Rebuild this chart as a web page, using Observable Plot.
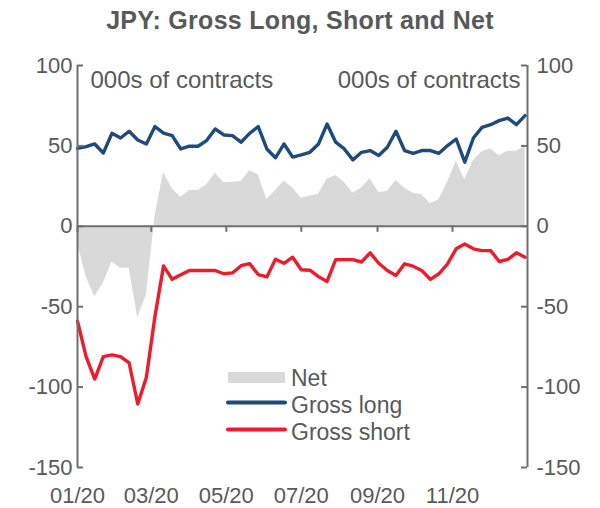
<!DOCTYPE html>
<html><head><meta charset="utf-8">
<script src="https://cdn.jsdelivr.net/npm/d3@7"></script>
<script src="https://cdn.jsdelivr.net/npm/@observablehq/plot@0.6"></script>
<style>
body{margin:0;background:#fff;font-family:"Liberation Sans",Arial,sans-serif;}
#title{width:600px;height:40px;line-height:40px;text-align:center;font-weight:bold;font-size:25px;letter-spacing:0.3px;color:#595959;}
#chart svg{display:block;}
</style></head><body>
<div id="title"></div>
<div id="chart"></div>
<script>
const chartTitle = "JPY: Gross Long, Short and Net";
const unitLabel = "000s of contracts";
const seriesNames = ["Net", "Gross long", "Gross short"];
const firstWeek = "2020-01-01";
const grossLong = [48.5,49.6,51.2,45.6,57.8,54.9,59.1,53.7,51.2,62.0,58.0,56.4,48.1,49.8,49.8,53.3,60.5,56.8,56.4,52.3,57.8,62.0,48.1,42.6,51.2,43.0,44.4,46.0,51.2,63.6,52.3,48.1,41.3,46.0,47.1,44.0,49.2,59.1,47.1,45.4,47.1,47.1,45.4,50.2,54.3,39.9,54.9,61.5,63.2,65.7,67.3,63.2,68.8];
const grossShort = [-59.0,-81.0,-95.0,-81.0,-80.0,-81.0,-85.0,-110.5,-94.0,-56.0,-24.6,-33.0,-30.2,-27.5,-27.5,-27.5,-27.5,-29.5,-29.0,-24.5,-23.2,-30.0,-31.5,-20.5,-23.0,-19.2,-27.0,-27.3,-31.3,-34.3,-20.7,-20.7,-20.7,-22.2,-16.5,-23.0,-27.5,-30.6,-23.3,-24.8,-27.5,-33.0,-29.5,-23.3,-14.0,-11.0,-14.0,-15.1,-15.1,-21.9,-20.6,-16.5,-19.2];
const netPosition = [-10.5,-31.4,-43.8,-35.4,-22.2,-26.1,-25.9,-56.8,-42.8,6.0,33.4,23.4,17.9,22.3,22.3,25.8,33.0,27.3,27.4,27.8,34.6,32.0,16.6,22.1,28.2,23.8,17.4,18.7,19.9,29.3,31.6,27.4,20.6,23.8,29.5,21.0,21.7,28.5,23.8,20.6,19.6,14.1,16.5,27.5,40.3,28.9,40.9,46.4,48.1,43.8,46.7,46.7,49.6];
const yTicks = [-150, -100, -50, 0, 50, 100];
const xTickDates = ["2020-01-01","2020-03-01","2020-05-01","2020-07-01","2020-09-01","2020-11-01"];
const xTickLabels = ["01/20","03/20","05/20","07/20","09/20","11/20"];
const xDomainDates = ["2020-01-01","2021-01-01"];

const colors = {net: "#D9D9D9", long: "#1F4A7C", short: "#EC1C2C", axis: "#6F6F6F", text: "#595959"};

document.getElementById("title").textContent = chartTitle;

const start = new Date(firstWeek);
const data = grossLong.map((v, i) => ({
  date: d3.utcDay.offset(start, 7 * i),
  long: v, short: grossShort[i], net: netPosition[i]
}));
const tickDates = xTickDates.map(s => new Date(s));
const labelOf = new Map(tickDates.map((d, i) => [+d, xTickLabels[i]]));
const xDomain = xDomainDates.map(s => new Date(s));
const yFormat = d => String(d);

const svgTop = 40;
const chart = Plot.plot({
  width: 600, height: 468,
  marginTop: 25, marginBottom: 41, marginLeft: 77, marginRight: 73,
  style: {fontFamily: "Liberation Sans, Arial, sans-serif", fontSize: "22px", color: colors.text, background: "#fff"},
  x: {type: "utc", domain: xDomain},
  y: {domain: [-150, 100]},
  marks: [
    Plot.areaY(data, {x: "date", y: "net", fill: colors.net}),
    Plot.ruleY([0], {stroke: colors.axis, strokeWidth: 2}),
    Plot.ruleX(tickDates, {y1: 0, y2: 0, insetBottom: -6, stroke: colors.axis, strokeWidth: 2}),
    Plot.lineY(data, {x: "date", y: "long", stroke: colors.long, strokeWidth: 3.4}),
    Plot.lineY(data, {x: "date", y: "short", stroke: colors.short, strokeWidth: 3.4}),
    Plot.ruleX(xDomain, {stroke: colors.axis, strokeWidth: 2}),
    Plot.ruleY(yTicks, {x1: xDomain[0], x2: xDomain[0], insetRight: -6, stroke: colors.axis, strokeWidth: 2}),
    Plot.ruleY(yTicks, {x1: xDomain[1], x2: xDomain[1], insetLeft: -6, stroke: colors.axis, strokeWidth: 2}),
    Plot.axisY(yTicks, {anchor: "left", tickSize: 0, tickPadding: 5, fontSize: 22, fill: colors.text, tickFormat: yFormat}),
    Plot.axisY(yTicks, {anchor: "right", tickSize: 0, tickPadding: 9, fontSize: 22, fill: colors.text, tickFormat: yFormat}),
    Plot.axisX(tickDates, {anchor: "bottom", tickSize: 0, tickPadding: 20, fontSize: 22, fill: colors.text, tickFormat: d => labelOf.get(+d)}),
    Plot.text([unitLabel], {text: d => d, frameAnchor: "top-left", dx: 13, dy: 15, lineAnchor: "middle", textAnchor: "start", fontSize: 24, fill: colors.text}),
    Plot.text([unitLabel], {text: d => d, frameAnchor: "top-right", dx: -7, dy: 15, lineAnchor: "middle", textAnchor: "end", fontSize: 24, fill: colors.text})
  ]
});

// legend inside the plot area
const svg = d3.select(chart);
const lg = svg.append("g").attr("font-family", "Liberation Sans, Arial, sans-serif").attr("font-size", 23).attr("fill", colors.text).attr("text-anchor", "start");
const rowY = [377.5 - svgTop, 405 - svgTop, 432 - svgTop];
lg.append("rect").attr("x", 228).attr("y", rowY[0] - 5.5).attr("width", 57).attr("height", 11).attr("fill", colors.net);
lg.append("line").attr("x1", 228).attr("x2", 285).attr("y1", rowY[1] - 2.5).attr("y2", rowY[1] - 2.5).attr("stroke", colors.long).attr("stroke-width", 4).attr("stroke-linecap", "round");
lg.append("line").attr("x1", 228).attr("x2", 285).attr("y1", rowY[2] - 2.5).attr("y2", rowY[2] - 2.5).attr("stroke", colors.short).attr("stroke-width", 4).attr("stroke-linecap", "round");
seriesNames.forEach((name, i) => {
  lg.append("text").attr("x", 291).attr("y", rowY[i]).attr("dy", "0.36em").text(name);
});

document.getElementById("chart").appendChild(chart);
</script>
</body></html>
